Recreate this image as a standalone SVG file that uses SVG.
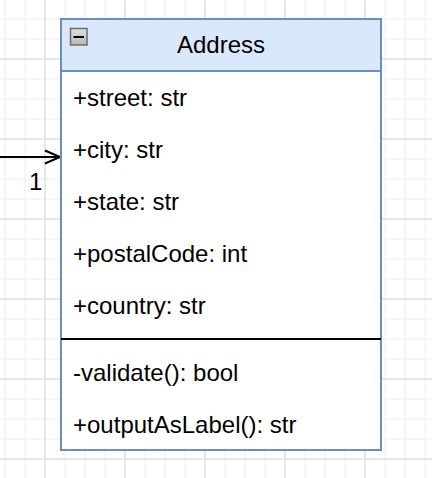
<svg xmlns="http://www.w3.org/2000/svg" width="432" height="478" viewBox="0 0 432 478">
  <style>
    .t { font-family: "Liberation Sans", Arial, Helvetica, sans-serif; font-size: 24px; fill: #000000; }
    .edge { stroke: #000000; stroke-width: 2; fill: none; }
  </style>
  <defs>
    <pattern id="minor" patternUnits="userSpaceOnUse" x="-5" y="9" width="20" height="20">
      <path d="M10 0 V20 M0 10 H20" stroke="#f3f3f3" stroke-width="1.5" fill="none"/>
    </pattern>
    <pattern id="major" patternUnits="userSpaceOnUse" x="5" y="19" width="80" height="80">
      <path d="M40 0 V80 M0 40 H80" stroke="#e6e6e6" stroke-width="2" fill="none"/>
    </pattern>
    <linearGradient id="iconGrad" x1="0" y1="0" x2="0" y2="1">
      <stop offset="0" stop-color="#e0e0e0"/>
      <stop offset="1" stop-color="#b8b8b8"/>
    </linearGradient>
  </defs>
  <rect x="0" y="0" width="432" height="478" fill="#ffffff"/>
  <rect x="0" y="0" width="432" height="478" fill="url(#minor)"/>
  <rect x="0" y="0" width="432" height="478" fill="url(#major)"/>

  <g id="connectors">
    <path class="edge" d="M0 157 H60"/>
    <path class="edge" d="M45 150.5 L60 157 L45 163.5"/>
    <text class="t" x="29" y="190">1</text>
  </g>

  <g id="Address">
    <rect x="61" y="19" width="320" height="431" fill="#ffffff" stroke="#6c8ebf" stroke-width="2"/>
    <rect x="61" y="19" width="320" height="52" fill="#dae8fc" stroke="#6c8ebf" stroke-width="2"/>
    <rect x="70.5" y="28.5" width="16.5" height="16.5" fill="url(#iconGrad)" stroke="#6e6e6e" stroke-width="1.5"/>
    <path d="M73.5 37 H84" stroke="#000000" stroke-width="2"/>
    <text class="t" x="221" y="53" text-anchor="middle">Address</text>
    <text class="t" x="73" y="106">+street: str</text>
    <text class="t" x="73" y="158">+city: str</text>
    <text class="t" x="73" y="210">+state: str</text>
    <text class="t" x="73" y="262">+postalCode: int</text>
    <text class="t" x="73" y="314">+country: str</text>
    <path d="M61 339 H381" stroke="#000000" stroke-width="2"/>
    <text class="t" x="73" y="381">-validate(): bool</text>
    <text class="t" x="73" y="433">+outputAsLabel(): str</text>
  </g>
</svg>
